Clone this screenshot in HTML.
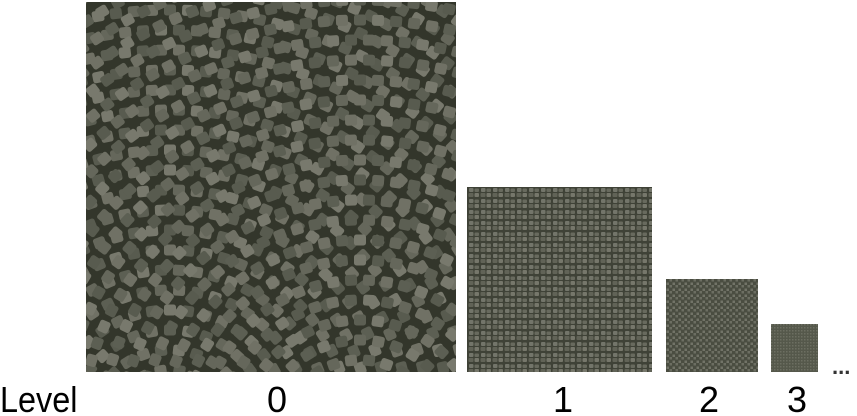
<!DOCTYPE html>
<html><head><meta charset="utf-8">
<style>
html,body{margin:0;padding:0;background:#fff;width:857px;height:416px;overflow:hidden;position:relative}
.t{position:absolute;font-family:"Liberation Sans Narrow","Liberation Sans",sans-serif;font-size:36px;color:#000;line-height:1;top:382px}
svg{position:absolute;top:0;left:0}
</style></head><body>
<svg width="857" height="416">
<defs>
<pattern id="p1" width="12" height="11" patternUnits="userSpaceOnUse">
<rect width="12" height="11" fill="#3f4237"/>
<rect x="1" y="1" width="4.5" height="4" rx="1" fill="#73756a"/>
<rect x="6.5" y="1.5" width="4.5" height="3.5" rx="1" fill="#686a5e"/>
<rect x="0.5" y="6" width="5" height="4" rx="1" fill="#616357"/>
<rect x="6.5" y="6" width="4.5" height="4" rx="1" fill="#76776b"/>
</pattern>
<pattern id="p2" width="6" height="6" patternUnits="userSpaceOnUse">
<rect width="6" height="6" fill="#4a4d41"/>
<rect x="0.5" y="0.5" width="2.5" height="2.5" fill="#727468"/>
<rect x="3.5" y="3" width="2.5" height="2.5" fill="#6c6e62"/>
</pattern>
<pattern id="p3" width="3" height="3" patternUnits="userSpaceOnUse">
<rect width="3" height="3" fill="#55584b"/>
<rect x="0" y="0" width="1.5" height="1.5" fill="#6c6e61"/>
</pattern>
<clipPath id="c0"><rect x="86" y="2" width="370" height="370"/></clipPath>
</defs>
<g clip-path="url(#c0)" id="g0">
<rect x="86" y="2" width="370" height="370" fill="#33362b"/>
</g>
<rect x="467" y="187" width="185" height="185" fill="url(#p1)"/>
<rect x="666" y="279" width="92" height="93" fill="url(#p2)"/>
<rect x="771" y="324" width="47" height="48" fill="url(#p3)"/>
<text x="832" y="374" font-family="Liberation Sans" font-size="22" font-weight="bold" fill="#333">...</text>
</svg>
<div class="t" style="left:0;transform:scaleX(0.9);transform-origin:0 0">Level</div>
<div class="t" style="left:267px">0</div>
<div class="t" style="left:553px">1</div>
<div class="t" style="left:699px">2</div>
<div class="t" style="left:787px">3</div>
<script>
var g=document.getElementById('g0'),ns='http://www.w3.org/2000/svg';
var centers=[[170,430],[360,440]];
var cols=['#65675b','#707165','#5c5f53','#78796d','#585b4f'];
var k=0;
centers.forEach(function(c){
  for(var r=20;r<520;r+=20){
    var n=Math.max(4,Math.round(Math.PI*r/18));
    for(var i=0;i<n;i++){
      var a=Math.PI+Math.PI*(i+0.5)/n;
      var x=c[0]+r*Math.cos(a),y=c[1]+r*Math.sin(a);
      if(x<80||x>462||y<-5||y>380)continue;
      var el=document.createElementNS(ns,'rect');
      el.setAttribute('x',x-6);el.setAttribute('y',y-5.5);
      el.setAttribute('width',12);el.setAttribute('height',11);el.setAttribute('rx',2.5);
      el.setAttribute('fill',cols[(k++)%cols.length]);
      el.setAttribute('transform','rotate('+(a*180/Math.PI+90)+' '+x+' '+y+')');
      
      
      g.appendChild(el);
    }
  }
});
</script>
</body></html>
